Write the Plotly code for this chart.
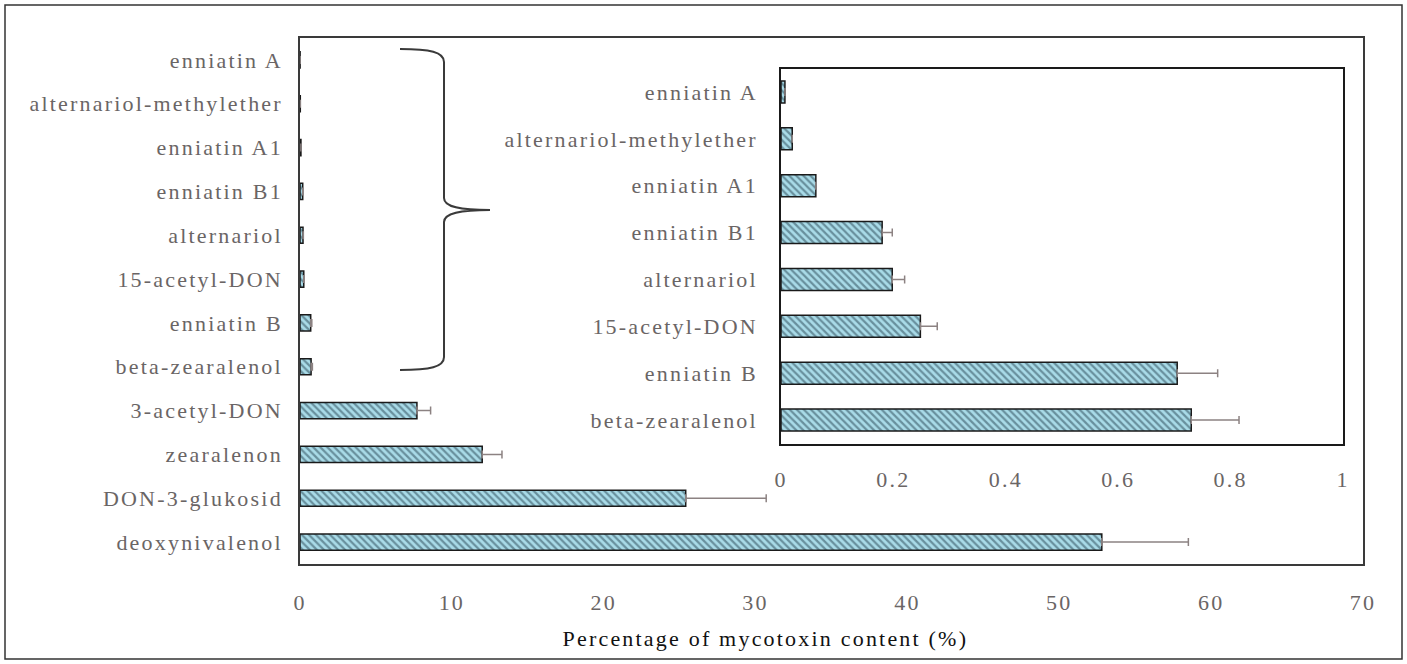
import plotly.graph_objects as go

# ---- data ----
categories = ["enniatin A", "alternariol-methylether", "enniatin A1", "enniatin B1",
              "alternariol", "15-acetyl-DON", "enniatin B", "beta-zearalenol",
              "3-acetyl-DON", "zearalenon", "DON-3-glukosid", "deoxynivalenol"]
values = [0.007, 0.02, 0.062, 0.18, 0.198, 0.248, 0.705, 0.73, 7.7, 12.0, 25.4, 52.8]
errors = [0.0, 0.0, 0.0, 0.018, 0.022, 0.03, 0.072, 0.085, 0.9, 1.3, 5.3, 5.7]

inset_categories = categories[:8]
inset_values = values[:8]
inset_errors = errors[:8]

main_ticks = [0, 10, 20, 30, 40, 50, 60, 70]
inset_ticks = [0, 0.2, 0.4, 0.6, 0.8, 1]

W, H = 1407, 664
L, R, T, B = 300, 1363, 38, 564  # main plot area in px


def px(x):
    return (x - L) / (R - L)


def py(y):
    return (B - y) / (B - T)


FONT = "Liberation Serif"
FS = 22
GRAY = "#6a6565"
bar_marker = dict(
    color="#a9dbe8",
    line=dict(color="#1a1a1a", width=1.5),
    pattern=dict(shape="\\", fgcolor="#284452", bgcolor="#a9dbe8", size=5, solidity=0.45),
)
err_style = dict(type="data", symmetric=False, color="#8c8282", thickness=1.5, width=4)

fig = go.Figure()
fig.add_trace(go.Bar(
    y=categories, x=values, orientation="h", width=0.37,
    marker=bar_marker,
    error_x=dict(array=errors, arrayminus=[0] * len(errors), **err_style),
    xaxis="x", yaxis="y", showlegend=False,
))
fig.add_trace(go.Bar(
    y=inset_categories, x=inset_values, orientation="h", width=0.47,
    marker=bar_marker,
    error_x=dict(array=inset_errors, arrayminus=[0] * len(inset_errors), **err_style),
    xaxis="x2", yaxis="y2", showlegend=False,
))

axis_common = dict(showgrid=False, zeroline=False, showline=True, mirror=True,
                   ticks="outside", ticklen=0,
                   tickfont=dict(family=FONT, size=FS, color=GRAY))

fig.update_layout(
    width=W, height=H,
    margin=dict(l=L, r=W - R, t=T, b=H - B),
    paper_bgcolor="white", plot_bgcolor="white",
    xaxis=dict(domain=[0, 1], range=[0, 70], tickvals=main_ticks, linecolor="#3a3a3a",
               linewidth=1.5, ticklabelstandoff=18, **axis_common),
    yaxis=dict(domain=[0, 1], autorange="reversed", linecolor="#3a3a3a", linewidth=1.5,
               ticklabelstandoff=11, **axis_common),
    xaxis2=dict(domain=[px(781), px(1343)], range=[0, 1], tickvals=inset_ticks, anchor="y2",
                linecolor="#1a1a1a", linewidth=1.5, ticklabelstandoff=15, **axis_common),
    yaxis2=dict(domain=[py(443.5), py(68.5)], autorange="reversed", anchor="x2",
                linecolor="#1a1a1a", linewidth=1.5, ticklabelstandoff=17, **axis_common),
    annotations=[dict(
        text="Percentage of mycotoxin content (%)", xref="paper", yref="paper",
        x=px(765), y=py(638), xanchor="center", yanchor="middle", showarrow=False,
        font=dict(family=FONT, size=FS, color="#111111"),
    )],
)

# outer frame
fig.add_shape(type="rect", xref="paper", yref="paper",
              x0=px(5), x1=px(1402), y0=py(659), y1=py(5),
              line=dict(color="#333333", width=1.5), layer="below")

# curly brace grouping the small values
pts = {
    "a": (400, 49), "b": (444, 62), "c": (444, 198), "tip": (490, 210),
    "d": (444, 222), "e": (444, 357), "f": (400, 370),
}


def P(name):
    x, y = pts[name]
    return f"{px(x):.5f},{py(y):.5f}"


def Q(x, y):
    return f"{px(x):.5f},{py(y):.5f}"


path = (f"M {P('a')} C {Q(430, 49)} {Q(444, 52)} {P('b')} "
        f"L {P('c')} C {Q(444, 207)} {Q(460, 210)} {P('tip')} "
        f"C {Q(460, 210)} {Q(444, 213)} {P('d')} "
        f"L {P('e')} C {Q(444, 367)} {Q(430, 370)} {P('f')}")
fig.add_shape(type="path", xref="paper", yref="paper", path=path,
              line=dict(color="#3a3a3a", width=2))

post = (
    "document.body.style.margin='0';document.body.style.padding='0';"
    "var s=document.createElement('style');"
    "s.textContent='.xtick text, .ytick text, .x2tick text, .y2tick text, .annotation-text"
    "{letter-spacing:2.2px;}';"
    "document.head.appendChild(s);"
)
fig.write_html("out.html", post_script=post, config={"displayModeBar": False})
